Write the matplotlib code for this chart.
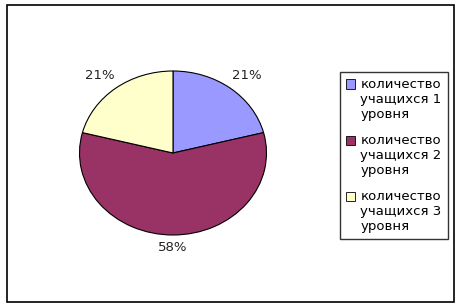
import matplotlib
matplotlib.use("Agg")
import matplotlib.pyplot as plt
from matplotlib.patches import Rectangle
from matplotlib.legend_handler import HandlerPatch

labels = ["количество\nучащихся 1\nуровня",
          "количество\nучащихся 2\nуровня",
          "количество\nучащихся 3\nуровня"]
values = [21, 58, 21]
colors = ["#9999FF", "#993366", "#FFFFCC"]

W, H = 461, 308
fig = plt.figure(figsize=(W / 100, H / 100), dpi=100)

# outer chart border
fig.patches.append(Rectangle((7 / W, 6 / H), 447 / W, 297 / H, transform=fig.transFigure,
                             fill=False, edgecolor="black", linewidth=1.2))

# pie is drawn slightly flattened, as in the original
cx, cy, rx, ry = 173, 153, 93.5, 82
ax = fig.add_axes([(cx - rx) / W, (H - cy - ry) / H, 2 * rx / W, 2 * ry / H])
wedges, texts, autotexts = ax.pie(values, colors=colors, startangle=90, counterclock=False,
                                  autopct="%1.0f%%", pctdistance=1.2,
                                  wedgeprops=dict(edgecolor="black", linewidth=0.8))
for t in autotexts:
    t.set_fontsize(9.5)
    t.set_color("#222222")
    x, y = t.get_position()
    if y < -1:
        y *= 0.96
    t.set_position((x * 1.07, y))
ax.set_aspect("auto")
ax.set_xlim(-1, 1)
ax.set_ylim(-1, 1)
ax.axis("off")


class TopPatch(HandlerPatch):
    # put the colour box next to the first line of a multi-line label
    def create_artists(self, legend, orig_handle, xdescent, ydescent, width, height,
                       fontsize, trans):
        p = Rectangle((-xdescent, -ydescent + fontsize * 1.2), width, height,
                      facecolor=orig_handle.get_facecolor(), edgecolor="black",
                      linewidth=0.6, transform=trans)
        return [p]


leg = fig.legend(wedges, labels, loc="upper left", bbox_to_anchor=(340 / W, 1 - 72 / H),
                 frameon=True, fancybox=False, edgecolor="black", fontsize=9.5,
                 handlelength=0.7, handleheight=0.7, handletextpad=0.4,
                 labelspacing=1.0, borderpad=0.45, borderaxespad=0,
                 handler_map={w: TopPatch() for w in wedges})
leg.get_frame().set_linewidth(1.0)

fig.savefig("out.png", dpi=100)
